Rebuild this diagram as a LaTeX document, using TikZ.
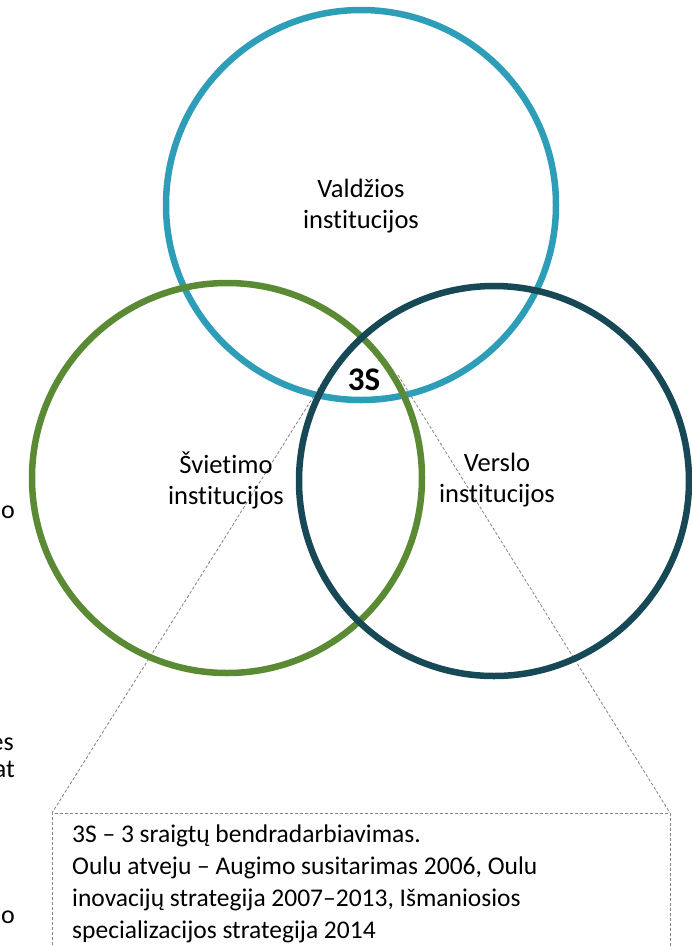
\documentclass[tikz,border=0pt]{standalone}
\usepackage{fontspec}
\setmainfont{Carlito}[Ligatures=NoCommon]
\definecolor{cblue}{RGB}{46,157,184}
\definecolor{cgreen}{RGB}{90,138,52}
\definecolor{cdark}{RGB}{22,72,86}
\definecolor{cgray}{RGB}{130,130,130}
\begin{document}
\begin{tikzpicture}[x=1pt,y=-1pt,
  ring/.style={line width=6.5pt},
  lbl/.style={align=center,font=\fontsize{26.5}{31}\selectfont,inner sep=0pt},
  callout/.style={draw=cgray,line width=0.8pt,dash pattern=on 3pt off 2pt},
  frag/.style={anchor=base east,inner sep=0pt,font=\fontsize{26}{31}\selectfont}]
\useasboundingbox (0,0) rectangle (692,946);
\begin{scope}
\clip (0,0) rectangle (692,946);
% callout lines and box
\coordinate (pl) at (327,375);
\coordinate (pr) at (398,375);
\coordinate (bl) at (52,813);
\coordinate (br) at (670,813);
\coordinate (bbl) at (52,960);
\coordinate (bbr) at (670,960);
\draw[callout] (pl) -- (bl);
\draw[callout] (pr) -- (br);
\draw[callout] (bbl) -- (bl) -- (br) -- (bbr);
\node[anchor=base west,align=left,inner sep=0pt,font=\fontsize{25.5}{32}\selectfont] (note) at (72,938)
  {3S – 3 sraigtų bendradarbiavimas.\\
   Oulu atveju – Augimo susitarimas 2006, Oulu\\
   inovacijų strategija 2007–2013, Išmaniosios\\
   specializacijos strategija 2014};
% circles
\draw[ring,cblue] (361,205) circle[radius=195];
\draw[ring,cgreen] (227,478) circle[radius=195];
\draw[ring,cdark] (494,481) circle[radius=195];
\node[lbl] (val) at (361,206) {Valdžios\\institucijos};
\node[lbl] (svi) at (226,480) {Švietimo\\institucijos};
\node[lbl] (ver) at (497,480) {Verslo\\institucijos};
\node[inner sep=0pt,font=\fontsize{33}{36}\selectfont\bfseries] (s3) at (364,380) {3S};
% cut-off text fragments at the left edge
\node[frag] (f1) at (15,518) {o};
\node[frag] (f2) at (14,750) {es};
\node[frag] (f3) at (15,777) {at};
\node[frag] (f4) at (15,923) {o};
\end{scope}
\end{tikzpicture}
\end{document}
